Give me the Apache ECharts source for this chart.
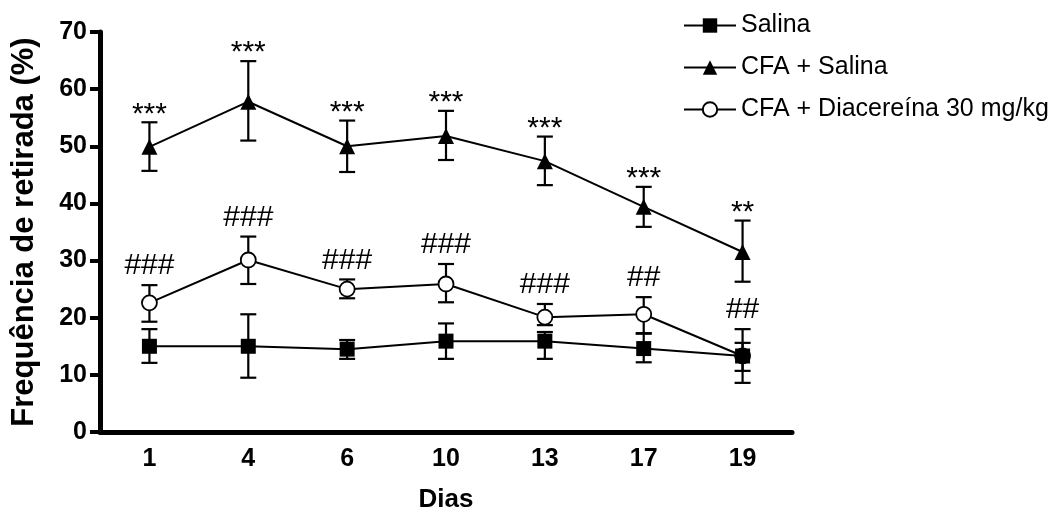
<!DOCTYPE html>
<html lang="pt">
<head>
	<meta charset="utf-8">
	<title>Frequência de retirada</title>
	<script src="https://cdn.jsdelivr.net/npm/echarts@6/dist/echarts.min.js"></script>
	<style>
		html, body { margin: 0; padding: 0; background: #fff; }
		#chart { width: 1055px; height: 514px; }
	</style>
</head>
<body>
<div id="chart"></div>
<script>
// dias de avaliação
var dias = ['1', '4', '6', '10', '13', '17', '19'];

// Salina
var salina = [15.0, 15.0, 14.5, 15.9, 15.9, 14.6, 13.3];
var salinaLow = [12.1, 9.5, 12.8, 12.8, 12.8, 12.2, 10.7];
var salinaHigh = [18.0, 20.6, 16.1, 19.0, 17.5, 17.2, 15.6];

// CFA + Salina
var cfa = [49.9, 57.8, 50.0, 51.8, 47.4, 39.4, 31.5];
var cfaLow = [45.7, 51.0, 45.5, 47.6, 43.2, 35.9, 26.3];
var cfaHigh = [54.2, 64.9, 54.5, 56.2, 51.7, 42.9, 37.0];
var cfaMarks = ['***', '***', '***', '***', '***', '***', '**'];

// CFA + Diacereína 30 mg/kg
var dia = [22.6, 30.1, 25.0, 25.9, 20.1, 20.6, 13.3];
var diaLow = [19.3, 25.9, 23.4, 22.7, 18.7, 17.3, 8.6];
var diaHigh = [25.7, 34.2, 26.7, 29.4, 22.4, 23.6, 18.0];
var diaMarks = ['###', '###', '###', '###', '###', '##', '##'];

var yTicks = [0, 10, 20, 30, 40, 50, 60, 70];

var font = 'Liberation Sans, Arial, sans-serif';

// barras de erro (e asteriscos/cerquilhas) desenhadas pelas coordenadas do eixo
function errorSeries(low, high, marks, offset) {
	return {
		type: 'custom',
		z: 1,
		silent: true,
		data: dias.map(function (d, i) { return [i, low[i], high[i]]; }),
		encode: { x: 0, y: [1, 2] },
		renderItem: function (params, api) {
			var i = api.value(0);
			var lo = api.coord([i, api.value(1)]);
			var hi = api.coord([i, api.value(2)]);
			var w = 8;
			var st = { stroke: '#000', lineWidth: 2.2 };
			var kids = [
				{ type: 'line', shape: { x1: lo[0], y1: lo[1], x2: hi[0], y2: hi[1] }, style: st },
				{ type: 'line', shape: { x1: lo[0] - w, y1: lo[1], x2: lo[0] + w, y2: lo[1] }, style: st },
				{ type: 'line', shape: { x1: hi[0] - w, y1: hi[1], x2: hi[0] + w, y2: hi[1] }, style: st }
			];
			if (marks) {
				kids.push({
					type: 'text',
					style: {
						text: marks[params.dataIndex],
						x: hi[0], y: hi[1] - offset,
						align: 'center', verticalAlign: 'middle',
						font: 'normal 30px ' + font,
						fill: '#000'
					}
				});
			}
			return { type: 'group', children: kids };
		}
	};
}

var chart = echarts.init(document.getElementById('chart'));
chart.setOption({
	animation: false,
	backgroundColor: '#fff',
	textStyle: { fontFamily: font },
	grid: { left: 100, right: 263, top: 32, bottom: 82, outerBoundsMode: 'none', containLabel: false },
	legend: {
		data: ['Salina', 'CFA + Salina', 'CFA + Diacereína 30 mg/kg'],
		orient: 'vertical',
		left: 678, top: 8,
		itemWidth: 52, itemHeight: 18, itemGap: 17,
		textStyle: { fontSize: 25, color: '#000', fontFamily: font }
	},
	xAxis: {
		type: 'category',
		data: dias,
		name: 'Dias',
		nameLocation: 'middle',
		nameGap: 55,
		nameTextStyle: { fontSize: 26, fontWeight: 'bold', color: '#000' },
		axisLine: { lineStyle: { color: '#000', width: 5 } },
		axisTick: { alignWithLabel: true, length: 9, lineStyle: { color: '#000', width: 4 } },
		axisLabel: { margin: 15, fontSize: 25, fontWeight: 'bold', color: '#000' },
		splitLine: { show: false }
	},
	yAxis: {
		type: 'value',
		min: yTicks[0], max: yTicks[yTicks.length - 1], interval: 10,
		name: 'Frequência de retirada (%)',
		nameLocation: 'middle',
		nameGap: 60,
		nameTextStyle: { fontSize: 31, fontWeight: 'bold', color: '#000' },
		axisLine: { show: true, lineStyle: { color: '#000', width: 5 } },
		axisTick: { show: true, length: 10, lineStyle: { color: '#000', width: 4 } },
		axisLabel: { margin: 13, fontSize: 25, fontWeight: 'bold', color: '#000' },
		splitLine: { show: false }
	},
	series: [
		errorSeries(diaLow, diaHigh, diaMarks, 19),
		errorSeries(salinaLow, salinaHigh, null, 0),
		errorSeries(cfaLow, cfaHigh, cfaMarks, 8),
		{
			name: 'Salina', type: 'line', z: 4,
			data: salina,
			symbol: 'rect', symbolSize: 15,
			itemStyle: { color: '#000' },
			lineStyle: { color: '#000', width: 2 }
		},
		{
			name: 'CFA + Salina', type: 'line', z: 3,
			data: cfa,
			symbol: 'triangle', symbolSize: 16,
			itemStyle: { color: '#000' },
			lineStyle: { color: '#000', width: 2 }
		},
		{
			name: 'CFA + Diacereína 30 mg/kg', type: 'line', z: 3,
			data: dia,
			symbol: 'circle', symbolSize: 15,
			itemStyle: { color: '#fff', borderColor: '#000', borderWidth: 1.8 },
			lineStyle: { color: '#000', width: 2 }
		}
	]
});
</script>
</body>
</html>
